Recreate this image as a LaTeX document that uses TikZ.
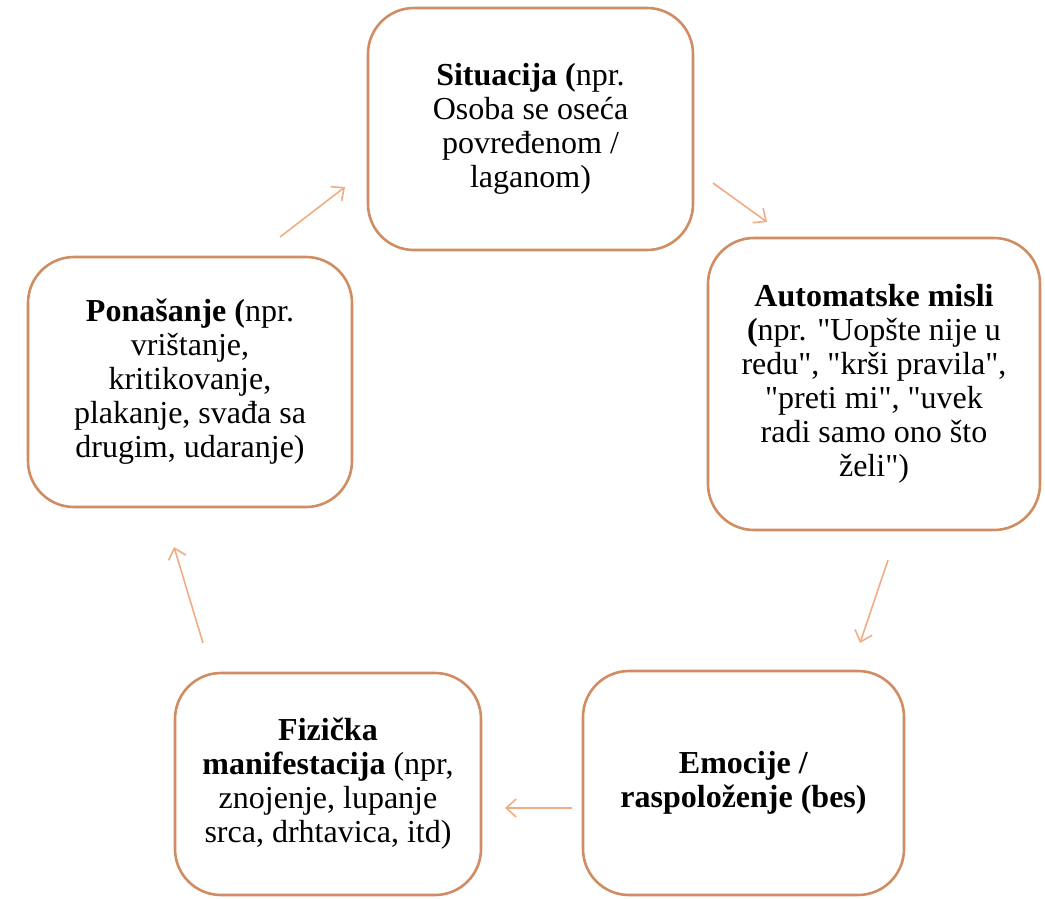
\documentclass[tikz,border=0pt]{standalone}
\usepackage{fontspec}
\setmainfont{Liberation Serif}[Ligatures=TeXOff]
\usetikzlibrary{arrows.meta}
\definecolor{boxline}{RGB}{208,140,98}
\definecolor{arrowc}{RGB}{240,172,130}
\begin{document}
\begin{tikzpicture}[x=1pt,y=-1pt,
  box/.style={draw=boxline, line width=2.6pt, rounded corners=46pt, fill=white,
    align=center, inner sep=0pt, font=\fontsize{32}{34}\selectfont},
  cyc/.style={draw=arrowc, line width=1.6pt, -{Straight Barb[length=10pt,width=18pt]}}]
\useasboundingbox (0,0) rectangle (1045,898);
\node[box, minimum width=325pt, minimum height=242pt] (sit) at (530.5,129)
  {\textbf{Situacija (}npr.\\Osoba se oseća\\povređenom /\\laganom)};
\node[box, minimum width=332pt, minimum height=292pt] (aut) at (874,384)
  {\textbf{Automatske misli}\\\textbf{(}npr. "Uopšte nije u\\redu", "krši pravila",\\"preti mi", "uvek\\radi samo ono što\\želi")};
\node[box, minimum width=321pt, minimum height=224pt] (emo) at (743.5,783)
  {\textbf{Emocije /}\\\textbf{raspoloženje (bes)}};
\node[box, minimum width=306pt, minimum height=222pt] (fiz) at (328,784)
  {\textbf{Fizička}\\\textbf{manifestacija} (npr,\\znojenje, lupanje\\srca, drhtavica, itd)};
\node[box, minimum width=324pt, minimum height=250pt] (pon) at (190,382)
  {\textbf{Ponašanje (}npr.\\vrištanje,\\kritikovanje,\\plakanje, svađa sa\\drugim, udaranje)};
\coordinate (p1) at (280,237); \coordinate (s1) at (345,187);
\coordinate (s2) at (713,183); \coordinate (a2) at (767,222);
\coordinate (a3) at (888,560); \coordinate (e3) at (860,643);
\coordinate (e4) at (572,808); \coordinate (f4) at (505,808);
\coordinate (f5) at (203,643); \coordinate (p5) at (174,547);
\draw[cyc] (p1) -- (s1);
\draw[cyc] (s2) -- (a2);
\draw[cyc] (a3) -- (e3);
\draw[cyc] (e4) -- (f4);
\draw[cyc] (f5) -- (p5);
\end{tikzpicture}
\end{document}
